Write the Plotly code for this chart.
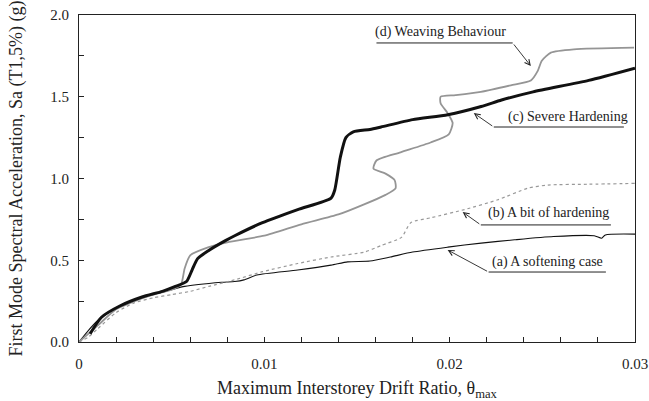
import plotly.graph_objects as go

# (a) A softening case
a_x = [0, 0.0005, 0.001, 0.002, 0.003, 0.004, 0.005, 0.0057, 0.0077, 0.0084, 0.0089, 0.0096,
       0.0118, 0.0136, 0.0145, 0.0157, 0.0168, 0.018, 0.0199, 0.0217, 0.0235, 0.0256, 0.0278,
       0.0282, 0.0284, 0.03]
a_y = [0, 0.07, 0.13, 0.21, 0.26, 0.29, 0.32, 0.34, 0.365, 0.37, 0.38, 0.41,
       0.44, 0.47, 0.49, 0.495, 0.52, 0.55, 0.58, 0.605, 0.625, 0.645, 0.65,
       0.635, 0.655, 0.66]

# (b) A bit of hardening
b_x = [0, 0.0005, 0.001, 0.002, 0.003, 0.004, 0.005, 0.006, 0.007, 0.0084, 0.0099, 0.0118,
       0.0136, 0.0154, 0.0163, 0.0174, 0.0179, 0.019, 0.0208, 0.0226, 0.0242, 0.0253, 0.0275, 0.03]
b_y = [0, 0.03, 0.08, 0.18, 0.24, 0.27, 0.29, 0.31, 0.34, 0.38, 0.43, 0.48,
       0.52, 0.55, 0.59, 0.64, 0.73, 0.76, 0.81, 0.87, 0.94, 0.96, 0.965, 0.97]

# (c) Severe hardening
c_x = [0.0006, 0.0012, 0.0022, 0.0034, 0.0045, 0.0052, 0.0058, 0.0061, 0.0064, 0.007, 0.0079,
       0.0084, 0.0099, 0.0118, 0.0136, 0.0138, 0.0141, 0.0144, 0.0148, 0.0157, 0.0163, 0.018,
       0.0199, 0.0217, 0.0228, 0.0245, 0.0275, 0.03]
c_y = [0.05, 0.15, 0.22, 0.275, 0.31, 0.34, 0.37, 0.44, 0.51, 0.56, 0.62,
       0.65, 0.73, 0.81, 0.88, 0.93, 1.13, 1.25, 1.285, 1.30, 1.315, 1.36,
       1.39, 1.44, 1.48, 1.53, 1.60, 1.675]

# (d) Weaving behaviour
d_x = [0, 0.001, 0.002, 0.003, 0.004, 0.005, 0.0055, 0.0057, 0.006, 0.007, 0.008, 0.01, 0.012,
       0.014, 0.01535, 0.01654, 0.01708, 0.01703, 0.01654, 0.01589, 0.01605, 0.01735, 0.01897,
       0.01995, 0.02016, 0.01989, 0.01951, 0.01951, 0.02032, 0.02168, 0.0233, 0.02438, 0.02476,
       0.02497, 0.02546, 0.0267, 0.02995]
d_y = [0, 0.1, 0.2, 0.25, 0.29, 0.32, 0.35, 0.45, 0.53, 0.58, 0.61, 0.65, 0.72,
       0.78, 0.84, 0.90, 0.94, 0.99, 1.03, 1.06, 1.11, 1.16, 1.22,
       1.27, 1.34, 1.40, 1.46, 1.50, 1.51, 1.53, 1.57, 1.60, 1.66,
       1.72, 1.77, 1.79, 1.80]

x_ticks = [0.002 * i for i in range(16)]
x_labels = ["0" if i == 0 else (f"{0.002 * i:.2f}" if i % 5 == 0 else "") for i in range(16)]
y_ticks = [0.25 * i for i in range(9)]
y_labels = [f"{0.25 * i:.1f}" if i % 2 == 0 else "" for i in range(9)]

# label text, text position, underline (x0, x1, y), arrow tail x, arrow tip
labels = [
    ("(d) Weaving Behaviour", 0.01951, 1.896, 0.01605, 0.0234, 1.829, 0.0234, 0.02438, 1.688),
    ("(c) Severe Hardening", 0.02638, 1.376, 0.02238, 0.0294, 1.315, 0.02238, 0.0213, 1.40),
    ("(b) A bit of hardening", 0.02535, 0.789, 0.02168, 0.0287, 0.716, 0.02168, 0.0207, 0.795),
    ("(a) A softening case", 0.0253, 0.489, 0.0221, 0.02843, 0.428, 0.0221, 0.01989, 0.563),
]

font = "Liberation Serif"

fig = go.Figure()
fig.add_trace(go.Scatter(x=a_x, y=a_y, mode="lines", line=dict(color="#111", width=1.1, shape="spline", smoothing=0.6)))
fig.add_trace(go.Scatter(x=b_x, y=b_y, mode="lines", line=dict(color="#999", width=1.2, dash="dot", shape="spline", smoothing=0.6)))
fig.add_trace(go.Scatter(x=d_x, y=d_y, mode="lines", line=dict(color="#959595", width=1.8, shape="spline", smoothing=0.6)))
fig.add_trace(go.Scatter(x=c_x, y=c_y, mode="lines", line=dict(color="#111", width=3, shape="spline", smoothing=0.6)))

for text, tx, ty, ux0, ux1, uy, tail_x, ax_, ay_ in labels:
    fig.add_annotation(x=tx, y=ty, text=text, showarrow=False,
                       font=dict(family=font, size=14, color="#222"))
    fig.add_shape(type="line", x0=ux0, x1=ux1, y0=uy, y1=uy, line=dict(color="#222", width=1))
    fig.add_annotation(x=ax_, y=ay_, ax=tail_x, ay=uy, axref="x", ayref="y", text="",
                       showarrow=True, arrowhead=5, arrowsize=1.2, arrowwidth=0.9,
                       arrowcolor="#222")

fig.update_layout(
    width=649, height=401,
    margin=dict(l=79, r=14, t=15, b=59),
    paper_bgcolor="white", plot_bgcolor="white",
    showlegend=False,
    font=dict(family=font, size=15, color="#222"),
    xaxis=dict(
        range=[0, 0.03], tickvals=x_ticks, ticktext=x_labels, ticks="inside", ticklen=5,
        tickcolor="#222", showline=True, linecolor="#222", linewidth=1, mirror=True,
        showgrid=False, zeroline=False, ticklabelstandoff=8, automargin=False,
        title=dict(text="Maximum Interstorey Drift Ratio, θ<sub>max</sub>", standoff=11),
    ),
    yaxis=dict(
        range=[0, 2.0], tickvals=y_ticks, ticktext=y_labels, ticks="inside", ticklen=5,
        tickcolor="#222", showline=True, linecolor="#222", linewidth=1, mirror=True,
        showgrid=False, zeroline=False, ticklabelstandoff=6, automargin=False,
        title=dict(text="First Mode Spectral Acceleration, Sa (T1,5%) (g)", standoff=22),
    ),
)

# drop the page's default body margin so the figure sits at the window's corner
fig.write_html("out.html", config={"displayModeBar": False},
               post_script="document.body.style.margin='0';")
